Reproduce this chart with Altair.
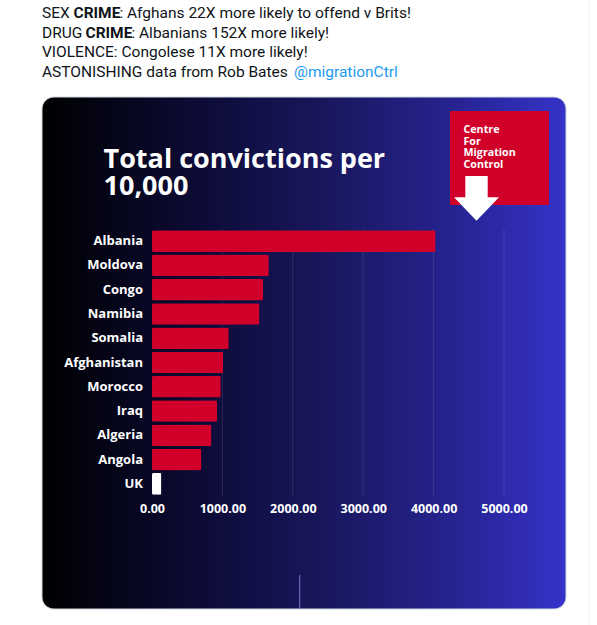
import altair as alt
import pandas as pd

# ---- data ----
countries = ["Albania", "Moldova", "Congo", "Namibia", "Somalia", "Afghanistan",
             "Morocco", "Iraq", "Algeria", "Angola", "UK"]
convictions = [4028, 1659, 1578, 1526, 1090, 1010, 977, 925, 844, 702, 133]
tick_values = [0, 1000, 2000, 3000, 4000, 5000]

tweet_line1 = ["SEX ", "CRIME", ": Afghans 22X more likely to offend v Brits!"]
tweet_line2 = ["DRUG ", "CRIME", ": Albanians 152X more likely!"]
tweet_line3 = ["VIOLENCE: Congolese 11X more likely!"]
tweet_line4 = ["ASTONISHING data from Rob Bates ", "@migrationCtrl"]
chart_title = ["Total convictions per", "10,000"]
logo_lines = ["Centre", "For", "Migration", "Control"]

df = pd.DataFrame({"country": countries, "value": convictions})
ticks_df = pd.DataFrame({"value": tick_values[1:]})

W, H = 352, 267           # plot area
PL, PT = 152, 229         # padding left/top
RED = "#d0002a"
INK = "#0f1419"

one = alt.Data(values=[{"a": 1}])


def txt(text, x, y, size, color=INK, weight="normal", font="Roboto", **kw):
    return alt.Chart(one).mark_text(
        text=text, font=font, fontSize=size, fontWeight=weight, color=color,
        align="left", baseline="alphabetic", **kw
    ).encode(x=alt.value(x), y=alt.value(y))


gradient = alt.LinearGradient(
    gradient="linear",
    stops=[
        alt.GradientStop(color="#000000", offset=0),
        alt.GradientStop(color="#0c0b36", offset=0.3),
        alt.GradientStop(color="#19185f", offset=0.55),
        alt.GradientStop(color="#25238f", offset=0.78),
        alt.GradientStop(color="#3632c9", offset=1),
    ],
    x1=0, x2=1, y1=0, y2=0,
)

card = alt.Chart(one).mark_rect(
    fill=gradient, cornerRadius=12, stroke="#cfd9de", strokeWidth=1
).encode(x=alt.value(-110), x2=alt.value(414), y=alt.value(-132), y2=alt.value(380))

side_line = alt.Chart(one).mark_rule(color="#eff3f4", strokeWidth=1).encode(
    x=alt.value(437), y=alt.value(-229), y2=alt.value(396))

artifact = alt.Chart(one).mark_rule(color="#7b78c8", strokeWidth=1).encode(
    x=alt.value(147.7), y=alt.value(346), y2=alt.value(380))

FS = 15.5
b1, b2, b3, b4 = -211.3, -191.5, -171.7, -151.9
tweet = [
    txt(tweet_line1[0], -110, b1, FS),
    txt(tweet_line1[1], -78.5, b1, FS, weight="bold"),
    txt(tweet_line1[2], -32.6, b1, FS),
    txt(tweet_line2[0], -110, b2, FS),
    txt(tweet_line2[1], -66.5, b2, FS, weight="bold"),
    txt(tweet_line2[2], -20.6, b2, FS),
    txt(tweet_line3[0], -110, b3, FS),
    txt(tweet_line4[0], -110, b4, FS),
    txt(tweet_line4[1], 142, b4, FS, color="#1d9bf0"),
]

titles = [
    txt(chart_title[i], -48.5, -60.7 + 27 * i, 27, color="white", weight="bold",
        font="Open Sans")
    for i in range(len(chart_title))
]

logo_box = alt.Chart(one).mark_rect(color=RED).encode(
    x=alt.value(298), x2=alt.value(397), y=alt.value(-118), y2=alt.value(-24))
logo_texts = [
    txt(logo_lines[i], 311.5, -96 + 11.5 * i, 10.7, color="white", weight="bold",
        font="Open Sans")
    for i in range(len(logo_lines))
]
arrow_shaft = alt.Chart(one).mark_rect(color="white").encode(
    x=alt.value(313.3), x2=alt.value(335.7), y=alt.value(-53), y2=alt.value(-30))
arrow_head = alt.Chart(one).mark_point(
    shape="M-1,-0.52L1,-0.52L0,0.52Z", filled=True, fill="white", opacity=1,
    strokeWidth=0, size=2025
).encode(x=alt.value(324.5), y=alt.value(-20))

x_scale = alt.Scale(domain=[0, 5000], range=[0, W], nice=False, zero=True)
x_axis = alt.Axis(values=tick_values, format=".2f", grid=False, domain=False,
                  ticks=False, tickSize=0, labelPadding=6, labelColor="white",
                  labelFont="Open Sans", labelFontWeight="bold",
                  labelFontSize=12.5, labelOverlap=False, labelFlush=False,
                  zindex=2, title=None)

grid = alt.Chart(ticks_df).mark_rule(color="white", opacity=0.11, strokeWidth=1).encode(
    x=alt.X("value:Q", scale=x_scale, axis=x_axis, title=None),
    y=alt.value(0), y2=alt.value(H),
)

bars = alt.Chart(df).mark_bar(cornerRadius=1.5).encode(
    x=alt.X("value:Q", scale=x_scale, axis=x_axis, title=None),
    y=alt.Y("country:N", sort=countries, title=None,
            scale=alt.Scale(paddingInner=0.11, paddingOuter=0.055),
            axis=alt.Axis(domain=False, ticks=False, tickSize=0, labelPadding=9.5,
                          labelColor="white", labelFont="Open Sans",
                          labelFontWeight="bold", labelFontSize=13, zindex=2)),
    color=alt.condition(alt.datum.country == "UK", alt.value("white"), alt.value(RED)),
)

chart = alt.layer(
    card, side_line, artifact, *tweet, *titles, logo_box, *logo_texts,
    arrow_shaft, arrow_head, grid, bars
).properties(
    width=W, height=H,
    padding={"left": PL, "top": PT, "right": 597 - PL - W, "bottom": 625 - PT - H},
    autosize=alt.AutoSizeParams(type="none"),
    background="white",
).configure_view(strokeWidth=0)

chart.save("out.html", embed_options={"renderer": "svg", "actions": False})
